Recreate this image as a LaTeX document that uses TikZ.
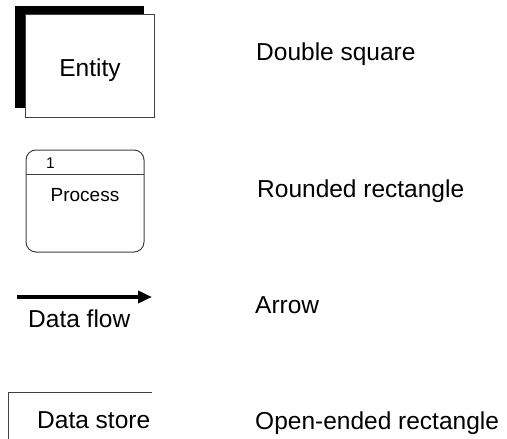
\documentclass[tikz,border=0pt]{standalone}
\usepackage{fontspec}
\setmainfont{Liberation Sans}
\usetikzlibrary{arrows.meta}
\tikzset{
  edgegray/.style={draw=black!75, line width=1pt},
  lbl/.style={inner sep=0pt, anchor=base west, font=\fontsize{24.5}{28}\selectfont},
  bigtxt/.style={inner sep=0pt, font=\fontsize{24.5}{28}\selectfont},
}
\begin{document}
\begin{tikzpicture}[x=1pt,y=-1pt]
\useasboundingbox (0,0) rectangle (507,439);
% Entity (double square)
\node (entshadow) [fill=black, inner sep=0pt, minimum width=129pt, minimum height=102pt] at (79.5,57) {};
\node (ent) [edgegray, fill=white, inner sep=0pt, minimum width=129pt, minimum height=103pt] at (89.5,65.5) {};
\node (enttxt) [bigtxt, anchor=base] at (90,76) {Entity};
\node (l1) [lbl] at (256,60) {Double square};
% Process
\node (proc) [edgegray, rounded corners=10pt, inner sep=0pt, minimum width=118pt, minimum height=102pt] at (85,201) {};
\coordinate (divl) at (26,174);
\coordinate (divr) at (144,174);
\draw[draw=black!75, line width=1pt] (divl) -- (divr);
\node (pnum) [inner sep=0pt, anchor=base west, font=\fontsize{15.5}{18}\selectfont] at (46,168) {1};
\node (ptxt) [inner sep=0pt, anchor=base, font=\fontsize{19}{22}\selectfont] at (85,201) {Process};
\node (l2) [lbl] at (257,197) {Rounded rectangle};
% Arrow
\coordinate (af1) at (17,297);
\coordinate (af2) at (152,297);
\draw[line width=3.5pt, -{Triangle[length=14pt,width=12pt]}] (af1) -- (af2);
\node (dftxt) [lbl] at (28,327) {Data flow};
\node (l3) [lbl] at (255,313) {Arrow};
% Data store
\coordinate (ds1) at (152,392);
\coordinate (ds2) at (8,392);
\coordinate (ds3) at (8,440);
\draw[draw=black!75, line width=1pt] (ds1) -- (ds2) -- (ds3);
\node (dstxt) [lbl] at (37,428) {Data store};
\node (l4) [lbl] at (255,429) {Open-ended rectangle};
\end{tikzpicture}
\end{document}
